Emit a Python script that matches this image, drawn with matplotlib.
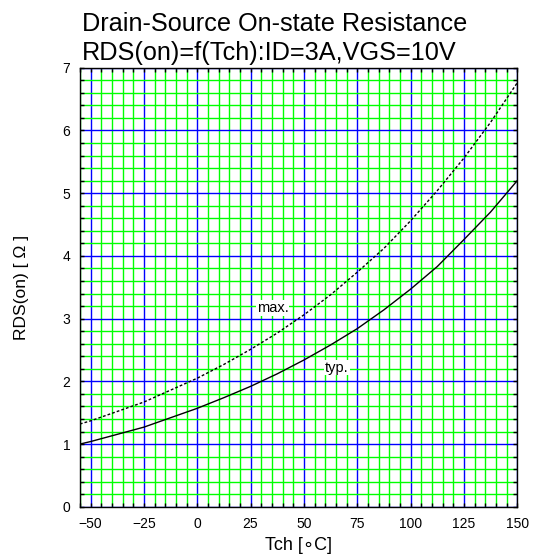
import numpy as np
import matplotlib
matplotlib.use("Agg")
import matplotlib.pyplot as plt
from matplotlib.ticker import MultipleLocator

plt.rcParams['font.family'] = ['Liberation Sans', 'DejaVu Sans']

# Values
tch = [-55, -50, -25, 0, 12.5, 25, 37.5, 50, 62.5, 75, 87.5, 100, 112.5, 125, 137.5, 150]
rds_typ = [1.00, 1.04, 1.27, 1.57, 1.74, 1.92, 2.12, 2.34, 2.58, 2.84, 3.14,
           3.47, 3.83, 4.26, 4.70, 5.20]
rds_max = [1.32, 1.37, 1.67, 2.05, 2.27, 2.51, 2.77, 3.06, 3.38, 3.74, 4.12,
           4.56, 5.04, 5.56, 6.13, 6.76]
x_ticks = [-50, -25, 0, 25, 50, 75, 100, 125, 150]
y_ticks = [0, 1, 2, 3, 4, 5, 6, 7]

fig = plt.figure(figsize=(5.36, 5.60), dpi=100)
ax = fig.add_axes([0.149, 0.095, 0.816, 0.784])

ax.set_xlim(-55, 150)
ax.set_ylim(0, 7)

# grid: green minor, blue major
ax.xaxis.set_minor_locator(MultipleLocator(5))
ax.yaxis.set_minor_locator(MultipleLocator(0.2))
ax.set_xticks(x_ticks)
ax.set_yticks(y_ticks)
ax.grid(which='minor', color='#00ff00', linewidth=1.0, zorder=0)
ax.grid(which='major', color='#0000ff', linewidth=1.0, zorder=1)
ax.set_axisbelow(True)

ax.plot(tch, rds_typ, color='black', linewidth=1.0, zorder=3)
ax.plot(tch, rds_max, color='black', linewidth=1.0, linestyle=(0, (2, 1.5)), zorder=3)

ax.text(28, 3.17, 'max.', fontsize=10.5, va='center', ha='left', zorder=4,
        bbox=dict(facecolor='white', edgecolor='none', pad=0.5))
ax.text(60, 2.22, 'typ.', fontsize=10.5, va='center', ha='left', zorder=4,
        bbox=dict(facecolor='white', edgecolor='none', pad=0.5))

ax.tick_params(which='both', direction='in', top=True, right=True,
               length=3, width=1, labelsize=10, pad=7)
for s in ax.spines.values():
    s.set_linewidth(1.0)
    s.set_color('black')

ax.set_xlabel('Tch [\u2218C]', fontsize=13, labelpad=5)
ax.set_ylabel('RDS(on) [ \u03a9 ]', fontsize=12.5, labelpad=24)

fig.text(0.153, 0.944, 'Drain-Source On-state Resistance', fontsize=18.2, ha='left', va='baseline')
fig.text(0.153, 0.893, 'RDS(on)=f(Tch):ID=3A,VGS=10V', fontsize=18.2, ha='left', va='baseline')

fig.savefig('out.png', dpi=100, facecolor='white')
